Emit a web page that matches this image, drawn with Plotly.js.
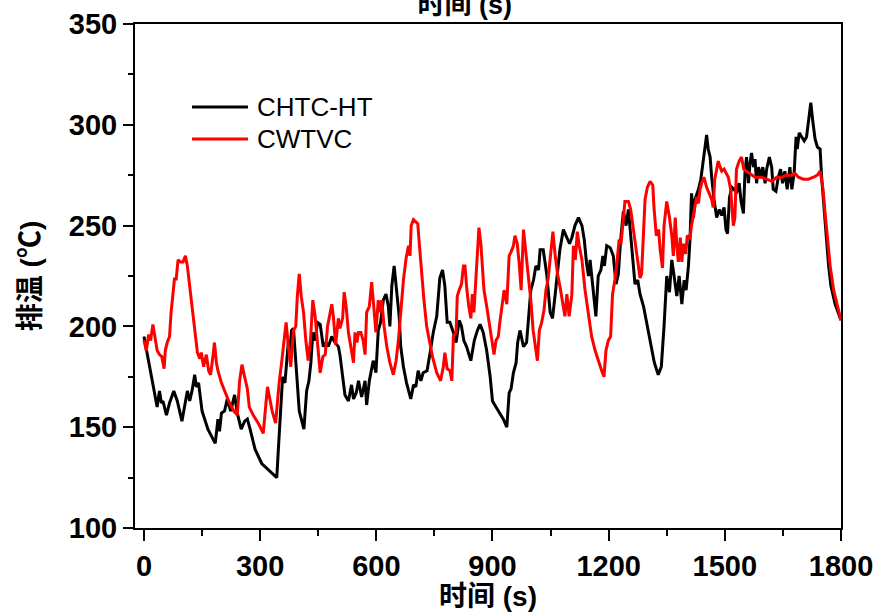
<!DOCTYPE html>
<html>
<head>
<meta charset="utf-8">
<script src="https://cdn.plot.ly/plotly-3.0.1.min.js"></script>
<style>
  html, body { margin: 0; padding: 0; background: #fff; }
  #chart { width: 877px; height: 612px; }
</style>
</head>
<body>
<div id="chart"></div>
<script>
// ---- Data ----
const seriesNames = ['CHTC-HT', 'CWTVC'];
const seriesColors = ['#000000', '#ff0000'];

const chtcTime = [0,10,19,27,34,40,45,49,58,66,77,86,98,112,118,124,131,135,141,150,165,184,191,195,200,208,215,224,234,241,251,260,267,274,287,304,325,343,347,353,358,364,368,373,377,381,386,393,401,413,420,426,431,436,442,448,455,463,470,476,485,493,502,506,512,519,528,536,541,548,554,562,571,575,582,588,592,599,605,611,618,625,631,635,640,646,652,659,663,670,678,689,696,702,708,715,721,731,739,747,756,760,764,771,777,783,790,799,806,814,820,826,833,844,853,861,868,876,885,894,900,909,919,928,937,943,948,954,961,965,971,975,980,988,993,999,1006,1012,1019,1023,1031,1040,1049,1055,1062,1068,1074,1083,1092,1099,1105,1113,1122,1131,1137,1143,1148,1152,1159,1167,1173,1180,1185,1189,1195,1204,1212,1219,1225,1231,1238,1245,1251,1257,1262,1268,1275,1281,1290,1298,1307,1318,1328,1336,1343,1350,1357,1363,1369,1376,1382,1389,1395,1400,1406,1410,1414,1419,1423,1432,1438,1444,1448,1453,1457,1462,1466,1472,1479,1486,1492,1498,1503,1507,1512,1518,1524,1530,1537,1542,1548,1552,1556,1561,1565,1569,1574,1578,1582,1587,1593,1598,1604,1608,1615,1621,1625,1632,1638,1644,1649,1655,1661,1668,1673,1679,1684,1687,1692,1699,1705,1711,1717,1722,1727,1733,1739,1746,1750,1756,1762,1768,1774,1785,1800];
const chtcTemp = [195,185,175,167,160,168,162,163,156,162,168,163,153,168,163,168,176,170,172,158,149,142,154,148,157,158,164,158,166,157,149,153,154,149,139,132,128,125,139,158,175,172,183,193,188,198,199,178,158,149,168,173,182,197,193,202,201,190,192,190,195,192,190,186,177,166,163,171,164,167,173,165,173,161,173,180,183,177,198,202,213,216,210,200,220,230,218,205,190,180,172,164,171,170,178,173,177,178,187,197,205,216,224,228,220,202,202,197,192,203,200,193,190,183,193,198,201,197,188,175,163,160,157,154,150,167,169,177,182,192,198,195,190,192,205,218,223,230,228,238,238,226,207,204,216,228,238,248,244,241,244,250,254,250,243,231,225,233,220,205,225,228,235,230,240,239,235,221,226,243,257,250,258,245,233,221,223,216,210,202,193,182,176,180,200,225,217,233,225,215,225,211,223,218,230,243,266,254,263,268,273,283,288,295,288,284,274,263,254,258,255,259,248,246,264,269,268,266,271,262,256,276,284,271,281,286,279,283,271,279,274,279,271,278,284,279,268,267,274,278,271,277,268,279,268,276,294,288,296,294,292,294,304,311,302,293,289,288,274,259,243,230,220,211,203];

const cwtvcTime = [0,6,12,17,23,29,34,40,46,52,55,60,66,70,75,79,83,88,94,101,107,112,118,124,131,138,144,148,154,161,167,172,178,182,187,191,200,210,221,232,241,247,253,260,267,272,282,295,308,315,319,325,331,340,344,349,356,362,367,373,379,386,392,396,401,406,412,418,424,430,436,442,448,455,462,468,474,479,485,489,495,502,506,513,517,522,528,534,541,545,550,554,560,566,571,575,582,588,594,599,605,610,614,620,627,635,644,651,657,663,670,677,683,687,690,696,702,707,711,717,723,730,737,745,756,766,773,777,783,790,795,799,806,809,814,820,825,829,833,838,844,848,852,858,861,865,870,874,878,885,894,901,904,909,915,919,925,930,937,943,948,954,958,964,969,974,980,987,993,999,1005,1012,1016,1021,1027,1033,1038,1044,1049,1056,1062,1068,1074,1081,1087,1092,1098,1105,1109,1114,1119,1124,1131,1139,1148,1156,1165,1173,1182,1188,1193,1199,1205,1210,1216,1222,1227,1232,1238,1242,1251,1257,1264,1270,1275,1281,1285,1290,1294,1300,1307,1314,1317,1323,1329,1333,1339,1343,1350,1357,1363,1367,1372,1376,1380,1385,1389,1393,1399,1403,1410,1414,1420,1427,1432,1436,1440,1446,1453,1460,1466,1470,1474,1479,1483,1488,1492,1498,1503,1509,1515,1522,1526,1530,1537,1543,1549,1556,1561,1569,1578,1587,1595,1608,1621,1634,1647,1660,1673,1681,1690,1703,1716,1729,1739,1746,1753,1759,1765,1772,1781,1791,1800];
const cwtvcTemp = [193,188,196,193,201,193,188,186,185,179,188,192,195,207,216,224,223,233,232,232,235,230,220,210,198,187,184,187,180,186,178,176,185,192,182,178,172,167,162,158,156,173,181,175,169,160,156,152,147,162,170,164,158,152,162,172,183,192,202,190,180,198,200,215,226,215,207,193,183,193,213,205,190,177,185,186,200,205,211,205,191,204,199,204,217,210,197,190,182,197,192,197,197,193,186,207,210,222,208,197,213,207,213,200,190,182,176,183,193,208,223,234,240,235,250,253,252,251,241,225,213,200,192,185,177,173,180,187,179,178,173,195,197,215,218,221,230,230,220,211,204,216,207,226,238,249,241,228,218,210,198,189,186,193,195,202,210,218,211,235,237,240,245,241,231,218,248,235,223,213,198,188,183,198,202,208,218,224,235,247,235,226,220,211,205,216,205,216,240,233,247,240,233,218,205,195,188,183,178,175,188,193,195,216,223,233,243,241,256,262,262,258,248,240,233,224,226,248,263,269,272,270,259,245,248,238,229,250,262,254,245,235,254,240,232,244,232,241,236,245,244,250,256,264,261,268,271,274,269,266,263,259,273,278,282,279,277,278,276,274,268,250,254,278,282,284,278,277,276,275,274,274,274,273,272,274,274,275,275,276,274,273,273,274,275,277,269,256,243,230,218,210,203];

// ---- Chart ----
const FONT = '"Liberation Sans", Arial, "Noto Sans CJK SC", sans-serif';

const traces = [
  { x: chtcTime, y: chtcTemp, name: seriesNames[0], type: 'scatter', mode: 'lines',
    line: { color: seriesColors[0], width: 3 }, xaxis: 'x', yaxis: 'y' },
  { x: cwtvcTime, y: cwtvcTemp, name: seriesNames[1], type: 'scatter', mode: 'lines',
    line: { color: seriesColors[1], width: 3 }, xaxis: 'x', yaxis: 'y' }
];

const legendY = [0.8353, 0.7718];
const shapes = [];
const annotations = [];
seriesNames.forEach((n, i) => {
  shapes.push({ type: 'line', xref: 'paper', yref: 'paper',
    x0: 0.0807, x1: 0.160, y0: legendY[i], y1: legendY[i],
    line: { color: seriesColors[i], width: 3 } });
  annotations.push({ xref: 'paper', yref: 'paper', x: 0.1700, y: legendY[i],
    xanchor: 'left', yanchor: 'middle', showarrow: false, text: n,
    font: { family: FONT, size: 26, color: '#000' } });
});

const layout = {
  width: 877, height: 612,
  margin: { l: 135, r: 36, t: 24, b: 84 },
  paper_bgcolor: '#fff', plot_bgcolor: '#fff',
  showlegend: false,
  title: { text: '时间 (s)', x: 0.530, xanchor: 'center', y: 0.992, yanchor: 'middle',
    font: { family: FONT, size: 27, color: '#000', weight: 'bold' } },
  xaxis: {
    range: [-23.2, 1800], tick0: 0, dtick: 300,
    ticks: 'outside', ticklen: 11, tickwidth: 2, tickcolor: '#000',
    showline: true, linewidth: 2, linecolor: '#000', mirror: true,
    showgrid: false, zeroline: false,
    minor: { tick0: 0, dtick: 150, ticks: 'outside', ticklen: 6, tickwidth: 2, tickcolor: '#000' },
    tickfont: { family: FONT, size: 29, color: '#000', weight: 'bold' },
    title: { text: '时间 (s)', standoff: 8, font: { family: FONT, size: 28, color: '#000', weight: 'bold' } }
  },
  xaxis2: {
    overlaying: 'x', side: 'top', anchor: 'y', range: [-23.2, 1800], tick0: 0, dtick: 150,
    ticks: 'inside', ticklen: 3, tickwidth: 1.5, tickcolor: '#000',
    showticklabels: false, showline: false, showgrid: false, zeroline: false
  },
  yaxis: {
    range: [100, 350], tick0: 100, dtick: 50,
    ticks: 'outside', ticklen: 10, tickwidth: 2, tickcolor: '#000',
    showline: true, linewidth: 2, linecolor: '#000', mirror: true,
    showgrid: false, zeroline: false,
    minor: { tick0: 100, dtick: 25, ticks: 'outside', ticklen: 5, tickwidth: 2, tickcolor: '#000' },
    tickfont: { family: FONT, size: 29, color: '#000', weight: 'bold' },
    title: { text: '排温 (℃)', standoff: 20, font: { family: FONT, size: 28, color: '#000', weight: 'bold' } }
  },
  shapes: shapes,
  annotations: annotations
};

Plotly.newPlot('chart', traces, layout, { displayModeBar: false, staticPlot: true });
</script>
</body>
</html>
